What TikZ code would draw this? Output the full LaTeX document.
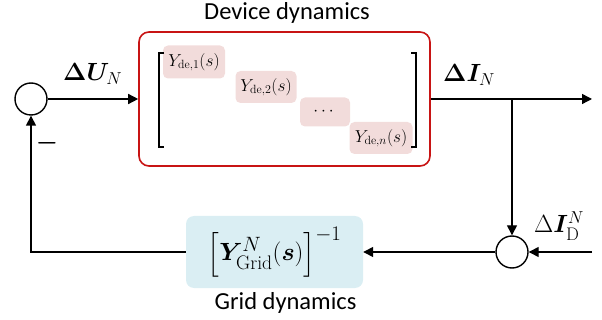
\documentclass[tikz,border=0pt]{standalone}
\usepackage{amsmath,bm}
\usepackage{fontspec}
\newfontfamily\carlito{Carlito}
\usetikzlibrary{arrows.meta}
\definecolor{devred}{RGB}{200,20,20}
\definecolor{pinkfill}{RGB}{242,220,219}
\definecolor{gridblue}{RGB}{218,238,243}
\begin{document}
\begin{tikzpicture}[x=1pt,y=-1pt,
  line/.style={line width=1.4pt},
  arr/.style={line, -{Triangle[length=10pt,width=10pt]}},
  sumnode/.style={circle, draw, line width=1.4pt, minimum size=32pt, inner sep=0},
  entry/.style={fill=pinkfill, rounded corners=5pt, inner sep=0, font=\fontsize{17}{20}\selectfont},
  lab/.style={font=\carlito\fontsize{24.5}{28}\selectfont, inner sep=0},
  mlab/.style={font=\fontsize{26}{30}\selectfont, inner sep=0}]
\useasboundingbox (0,0) rectangle (602,320);
% blocks
\node[sumnode] (s1) at (31,99) {};
\node[draw=devred, line width=1.6pt, rounded corners=10pt, minimum width=291pt, minimum height=134pt, inner sep=0] (dev) at (284.5,99) {};
\node[sumnode] (s2) at (512,252) {};
\node[fill=gridblue, rounded corners=8pt, minimum width=177pt, minimum height=72pt, inner sep=0, font=\fontsize{28}{32}\selectfont] (grid) at (274.5,252) {$\Big[\boldsymbol{Y}^{N}_{\mathrm{Grid}}(\boldsymbol{s})\Big]^{-1}$};
% matrix entries
\node[entry, minimum width=62pt, minimum height=33pt] (e1) at (194,62) {$Y_{\mathrm{de},1}(s)$};
\node[entry, minimum width=61pt, minimum height=32pt] (e2) at (266,87) {$Y_{\mathrm{de},2}(s)$};
\node[entry, minimum width=50pt, minimum height=29pt] (e3) at (325,112) {$\cdots$};
\node[entry, minimum width=63pt, minimum height=32pt] (e4) at (381,138) {$Y_{\mathrm{de},n}(s)$};
% brackets
\draw[line] (164,53) -- (159,53) -- (159,147) -- (164,147);
\draw[line] (411,53) -- (416,53) -- (416,147) -- (411,147);
% connectors
\coordinate (out) at (592,99);
\coordinate (br) at (512,99);
\coordinate (inD) at (592,252);
\draw[arr] (s1.east) -- (dev.west);
\draw[arr] (dev.east) -- (out);
\draw[arr] (br) -- (s2.north);
\draw[arr] (inD) -- (s2.east);
\draw[arr] (s2.west) -- (grid.east);
\draw[arr] (grid.west) -| (s1.south);
% labels
\node[lab, anchor=base] (devlab) at (287,20) {Device dynamics};
\node[lab, anchor=base] (gridlab) at (285.5,309) {Grid dynamics};
\node[mlab, anchor=base west] (du) at (63,81) {$\boldsymbol{\Delta U}_N$};
\node[mlab, anchor=base west] (di) at (443,82) {$\boldsymbol{\Delta I}_N$};
\node[mlab, anchor=base west] (dd) at (534,233) {$\Delta\boldsymbol{I}_{\mathrm{D}}^{N}$};
\node[font=\fontsize{28}{30}\selectfont, inner sep=0] (minus) at (47,143) {$\boldsymbol{-}$};
\end{tikzpicture}
\end{document}
